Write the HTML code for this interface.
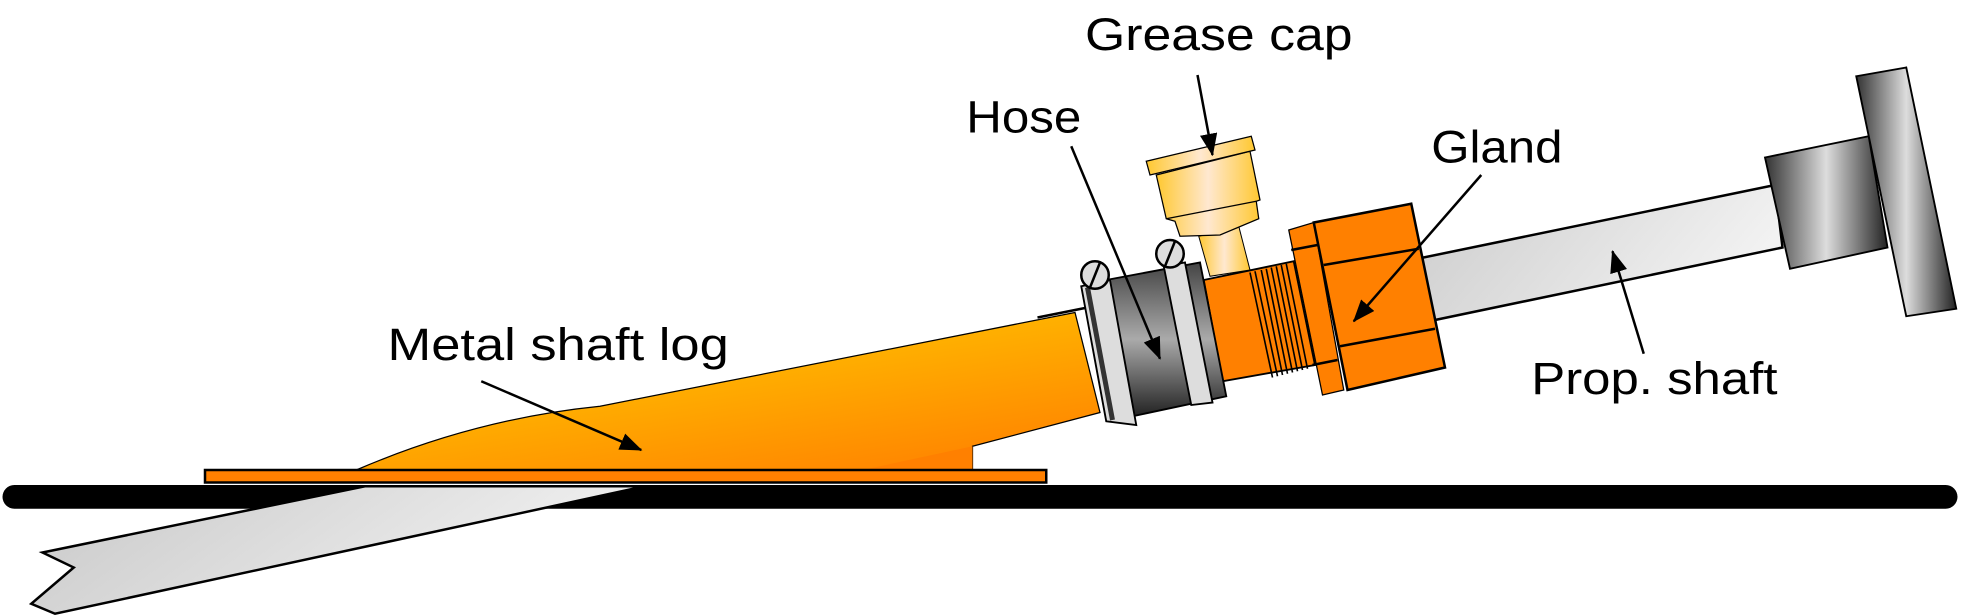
<!DOCTYPE html>
<html><head><style>html,body{margin:0;padding:0;background:#fff;}svg{display:block}</style></head>
<body>
<svg width="1961" height="616" viewBox="0 0 1568.8 492.8" preserveAspectRatio="none" xmlns="http://www.w3.org/2000/svg">
<defs>
<linearGradient id="grey" x1="0" y1="0" x2="1" y2="0.3"><stop offset="0" stop-color="#c8c8c8"/><stop offset="1" stop-color="#f2f2f2"/></linearGradient>
<linearGradient id="log" x1="0.3" y1="0.2" x2="0.9" y2="1"><stop offset="0" stop-color="#ffc000"/><stop offset="1" stop-color="#ff8000"/></linearGradient>
<linearGradient id="dark" x1="0" y1="0" x2="0" y2="1"><stop offset="0" stop-color="#444"/><stop offset="0.5" stop-color="#aaa"/><stop offset="1" stop-color="#222"/></linearGradient>
<linearGradient id="darkh" x1="0" y1="0" x2="1" y2="0"><stop offset="0" stop-color="#333"/><stop offset="0.5" stop-color="#ddd"/><stop offset="1" stop-color="#222"/></linearGradient>
<linearGradient id="cap" x1="0" y1="0" x2="1" y2="0"><stop offset="0" stop-color="#ffc830"/><stop offset="0.5" stop-color="#ffe8d0"/><stop offset="1" stop-color="#ffc830"/></linearGradient>
<marker id="ah" markerWidth="18" markerHeight="14" refX="17" refY="7" orient="auto" markerUnits="userSpaceOnUse" viewBox="0 0 18 14"><path d="M0,0 L18,7 L0,14 z" fill="#000"/></marker>
</defs>
<rect x="2" y="388" width="1564" height="19" rx="9.5" fill="#000"/>
<polygon points="34,442 292,389 516,389 44,491 25,483 59,454" fill="url(#grey)" stroke="#000" stroke-width="2"/>
<polygon points="1100,214 1420,148 1426,198 1100,266" fill="url(#grey)" stroke="#000" stroke-width="2"/>
<polygon points="1412,126 1495,109 1510,198 1432,215" fill="url(#darkh)" stroke="#000" stroke-width="1.5"/>
<polygon points="1485,61 1525,54 1565,247 1525,253" fill="url(#darkh)" stroke="#000" stroke-width="1.5"/>
<path d="M285,376 Q380,335 480,325 L860,250 L880,330 L778,357 L778,376 Z" fill="url(#log)" stroke="#000" stroke-width="1"/>
<polygon points="690,376 778,357 778,376" fill="#ff8000"/>
<line x1="830" y1="254" x2="870" y2="246" stroke="#000" stroke-width="2"/>
<rect x="164" y="376" width="673" height="10" fill="#ff8000" stroke="#000" stroke-width="2"/>
<polygon points="963,224 1035,209 1052,292 978,305" fill="#ff8000" stroke="#000" stroke-width="1.5"/>
<g stroke="#000" stroke-width="1.3">
<line x1="1000" y1="218" x2="1018" y2="302"/><line x1="1004" y1="217" x2="1022" y2="301"/><line x1="1009" y1="216" x2="1026" y2="300"/><line x1="1013" y1="215" x2="1030" y2="299"/><line x1="1017" y1="214" x2="1034" y2="298"/><line x1="1021" y1="213" x2="1038" y2="297"/><line x1="1025" y1="212" x2="1042" y2="296"/><line x1="1029" y1="211" x2="1046" y2="295"/>
</g>
<polygon points="1031,184 1051,178 1075,312 1058,316" fill="#ff8000" stroke="#000" stroke-width="1"/>
<polygon points="1051,178 1129,163 1156,294 1078,312" fill="#ff8000" stroke="#000" stroke-width="2"/>
<line x1="1059" y1="212" x2="1135" y2="199" stroke="#000" stroke-width="2"/>
<line x1="1072" y1="277" x2="1148" y2="263" stroke="#000" stroke-width="2"/>
<line x1="1033" y1="200" x2="1054" y2="196" stroke="#000" stroke-width="2"/>
<line x1="1050" y1="292" x2="1070" y2="288" stroke="#000" stroke-width="2"/>
<polygon points="959,189 991,181 1000,216 968,221" fill="url(#cap)" stroke="#000" stroke-width="0.8"/>
<polygon points="925,140 1000,121 1008,160 1005,161 1007,175 976,188 944,189 940,177 933,175" fill="url(#cap)" stroke="#000" stroke-width="1"/>
<line x1="933" y1="175" x2="1005" y2="161" stroke="#000" stroke-width="1"/>
<polygon points="917,129 1001,109 1004,120 920,140" fill="url(#cap)" stroke="#000" stroke-width="1"/>
<polygon points="885,224 960,210 981,317 906,333" fill="url(#dark)" stroke="#000" stroke-width="1.5"/>
<polygon points="865,229 888,224 909,340 885,337" fill="#ddd" stroke="#000" stroke-width="1.5"/>
<line x1="870" y1="230" x2="890" y2="336" stroke="#333" stroke-width="4"/>
<polygon points="931,213 948,210 970,322 953,324" fill="#ddd" stroke="#000" stroke-width="1.5"/>
<circle cx="876" cy="220" r="11" fill="#ddd" stroke="#000" stroke-width="2"/>
<line x1="872" y1="230" x2="880" y2="210" stroke="#000" stroke-width="2"/>
<circle cx="936" cy="203" r="11" fill="#ddd" stroke="#000" stroke-width="2"/>
<line x1="932" y1="213" x2="940" y2="193" stroke="#000" stroke-width="2"/>
<g stroke="#000" stroke-width="2" fill="none" marker-end="url(#ah)">
<line x1="958" y1="60" x2="970" y2="124"/>
<line x1="857" y1="117" x2="928" y2="287"/>
<line x1="1185" y1="140" x2="1083" y2="257"/>
<line x1="385" y1="305" x2="513" y2="360"/>
<line x1="1315" y1="283" x2="1290" y2="201"/>
</g>
<g font-family="Liberation Sans, sans-serif" font-size="36" fill="#000">
<text x="868" y="40" textLength="214" lengthAdjust="spacingAndGlyphs">Grease cap</text>
<text x="773" y="106" textLength="92" lengthAdjust="spacingAndGlyphs">Hose</text>
<text x="1145" y="130" textLength="105" lengthAdjust="spacingAndGlyphs">Gland</text>
<text x="310" y="288" textLength="273" lengthAdjust="spacingAndGlyphs">Metal shaft log</text>
<text x="1225" y="315" textLength="197" lengthAdjust="spacingAndGlyphs">Prop. shaft</text>
</g>
</svg>
</body></html>
